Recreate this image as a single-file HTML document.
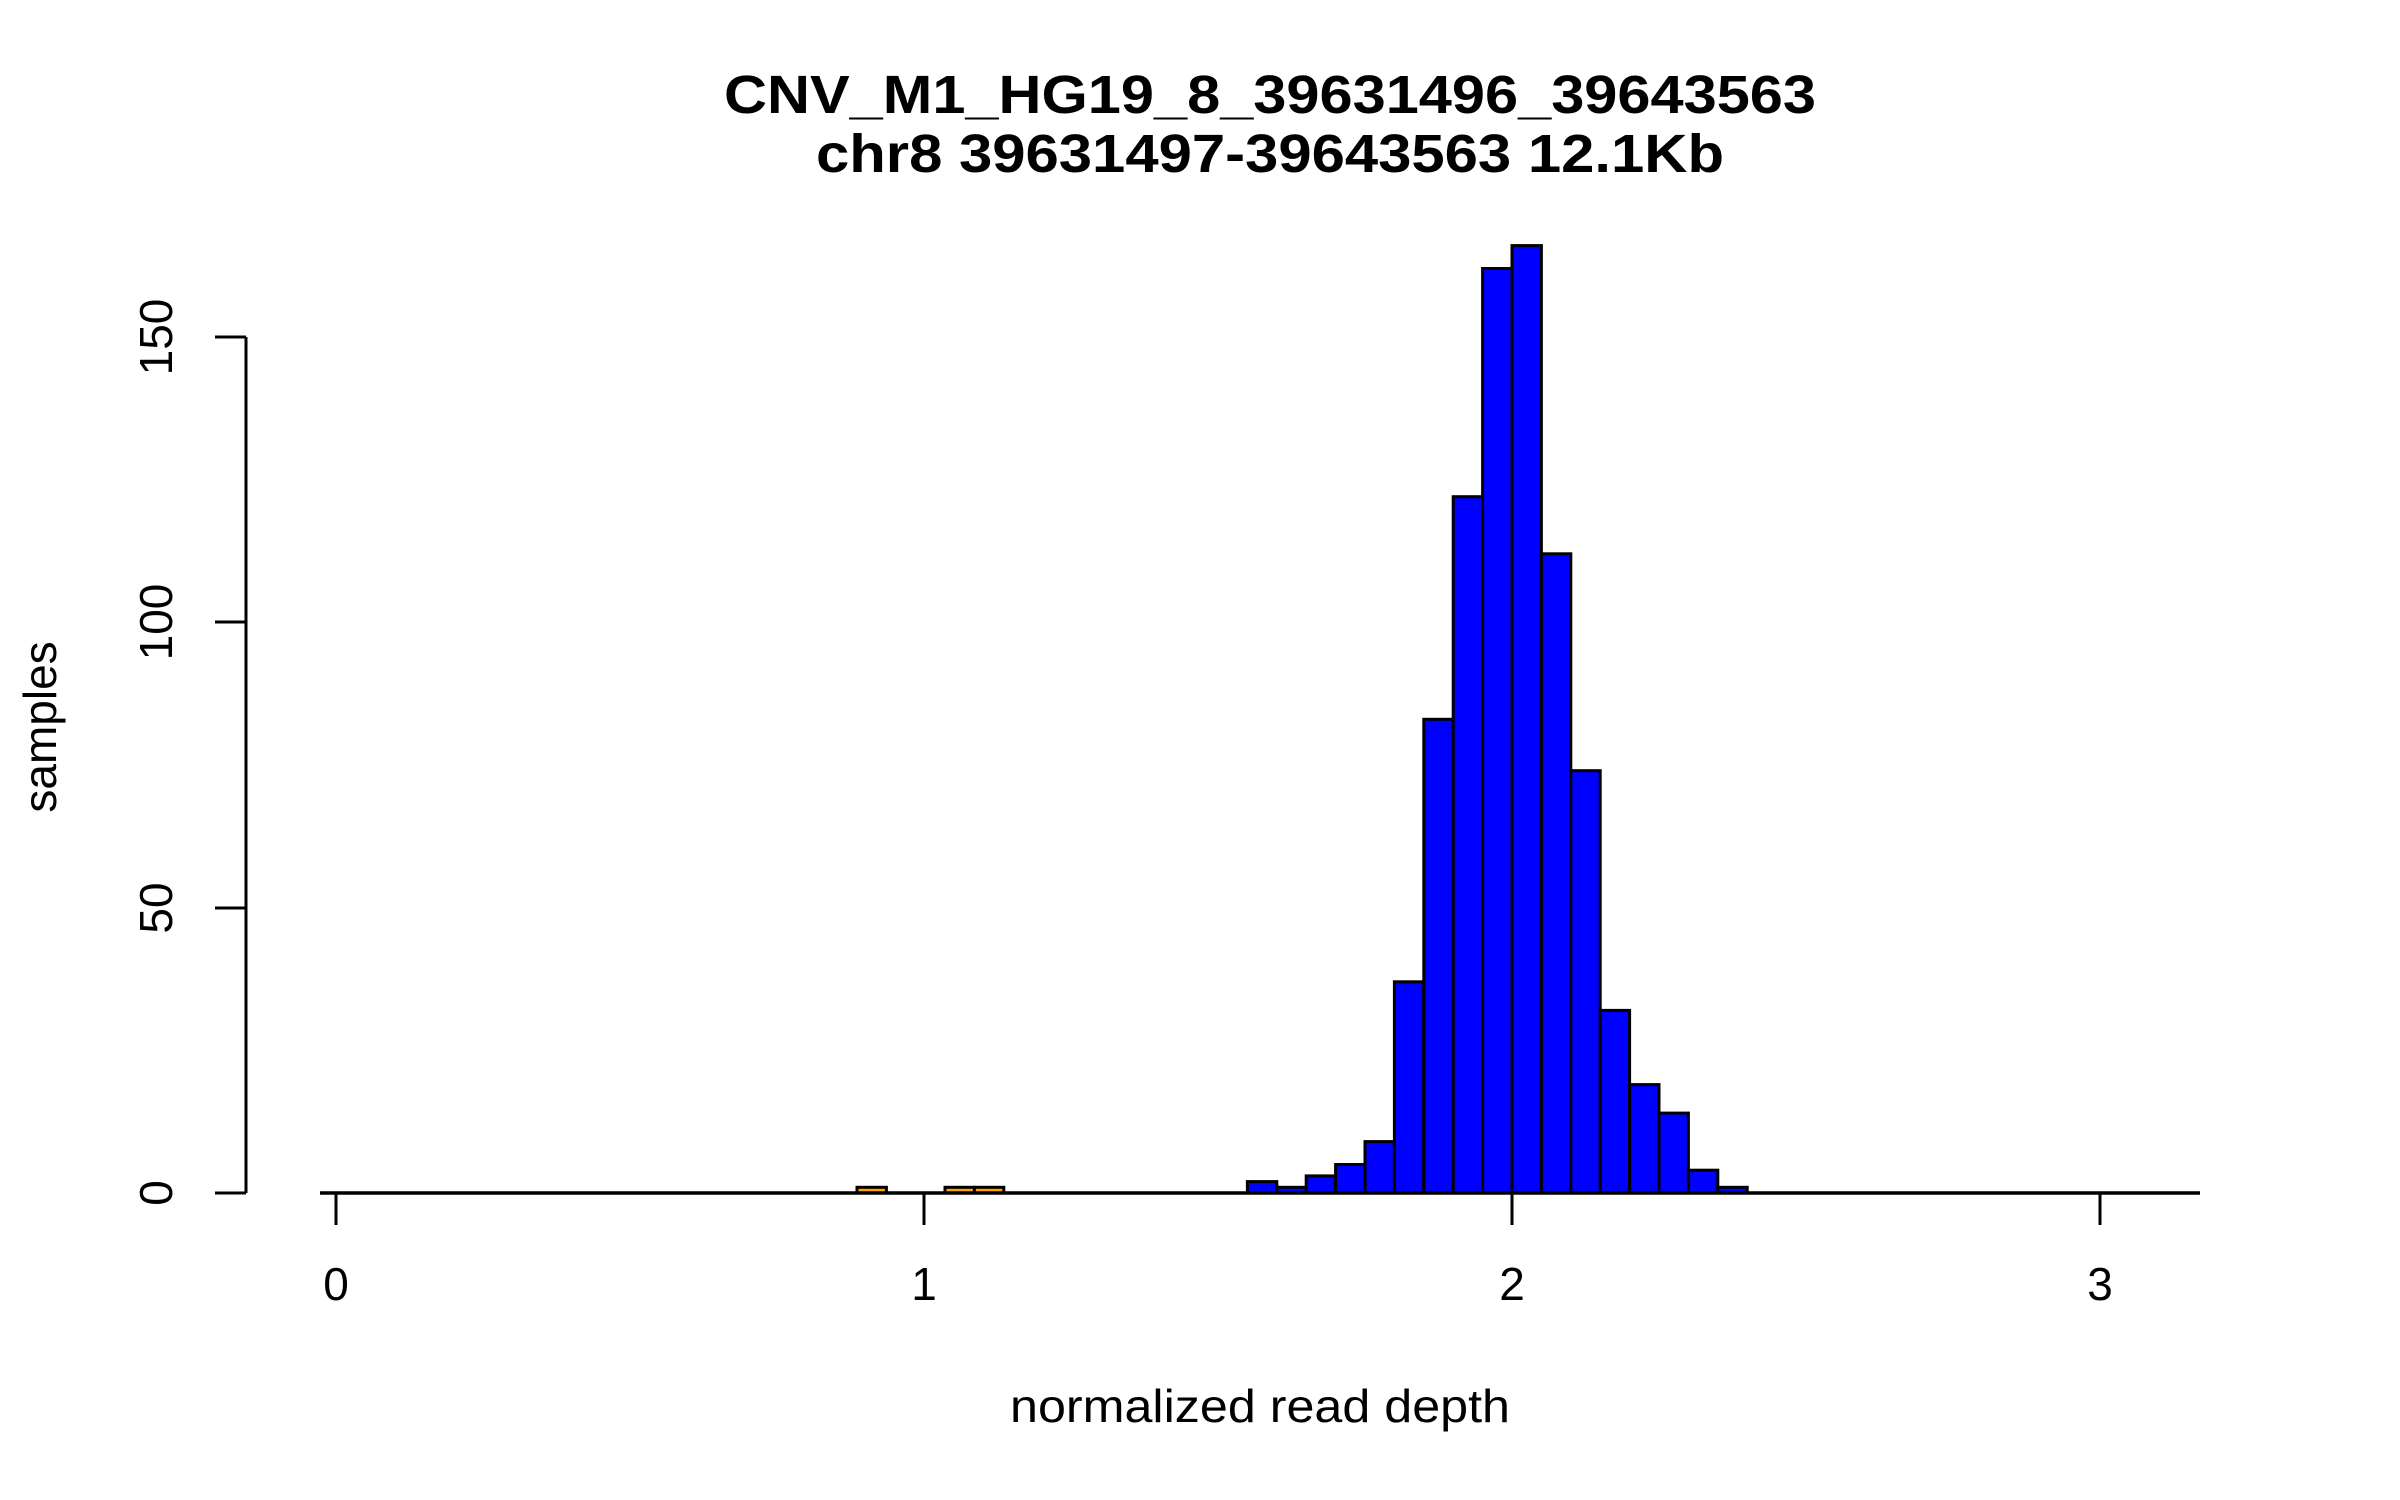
<!DOCTYPE html>
<html><head><meta charset="utf-8"><style>html,body{margin:0;padding:0;background:#fff}svg{display:block}</style></head>
<body>
<svg width="2400" height="1500" viewBox="0 0 2400 1500" xmlns="http://www.w3.org/2000/svg" font-family="Liberation Sans, Arial, sans-serif">
<rect width="2400" height="1500" fill="#fff"/>
<g font-weight="bold" font-size="54" text-anchor="middle" fill="#000">
<text x="1270" y="113" textLength="1092" lengthAdjust="spacingAndGlyphs">CNV_M1_HG19_8_39631496_39643563</text>
<text x="1270" y="172" textLength="908" lengthAdjust="spacingAndGlyphs">chr8 39631497-39643563 12.1Kb</text>
</g>
<g stroke="#000" stroke-width="3" fill="#0000ff">
<rect x="1247.4" y="1181.6" width="29.4" height="11.4"/>
<rect x="1276.8" y="1187.3" width="29.4" height="5.7"/>
<rect x="1306.2" y="1175.9" width="29.4" height="17.1"/>
<rect x="1335.6" y="1164.5" width="29.4" height="28.5"/>
<rect x="1365.0" y="1141.6" width="29.4" height="51.4"/>
<rect x="1394.4" y="981.8" width="29.4" height="211.2"/>
<rect x="1423.8" y="719.3" width="29.4" height="473.7"/>
<rect x="1453.2" y="496.7" width="29.4" height="696.3"/>
<rect x="1482.6" y="268.5" width="29.4" height="924.5"/>
<rect x="1512.0" y="245.6" width="29.4" height="947.4"/>
<rect x="1541.4" y="553.8" width="29.4" height="639.2"/>
<rect x="1570.8" y="770.7" width="29.4" height="422.3"/>
<rect x="1600.2" y="1010.4" width="29.4" height="182.6"/>
<rect x="1629.6" y="1084.6" width="29.4" height="108.4"/>
<rect x="1659.0" y="1113.1" width="29.4" height="79.9"/>
<rect x="1688.4" y="1170.2" width="29.4" height="22.8"/>
<rect x="1717.8" y="1187.3" width="29.4" height="5.7"/>
</g>
<g stroke="#000" stroke-width="3" fill="#ffa500">
<rect x="857" y="1187.3" width="29.4" height="5.7"/>
<rect x="945" y="1187.3" width="29.4" height="5.7"/>
<rect x="974.4" y="1187.3" width="29.4" height="5.7"/>
</g>
<g stroke="#000" stroke-width="3" fill="none">
<line x1="320" y1="1193" x2="2200" y2="1193" stroke-width="3.5"/>
<line x1="336" y1="1193" x2="336" y2="1225"/>
<line x1="924" y1="1193" x2="924" y2="1225"/>
<line x1="1512" y1="1193" x2="1512" y2="1225"/>
<line x1="2100" y1="1193" x2="2100" y2="1225"/>
<line x1="246" y1="337" x2="246" y2="1193"/>
<line x1="215" y1="1193" x2="246" y2="1193"/>
<line x1="215" y1="908" x2="246" y2="908"/>
<line x1="215" y1="622" x2="246" y2="622"/>
<line x1="215" y1="337" x2="246" y2="337"/>
</g>
<g font-size="46" text-anchor="middle" fill="#000">
<text x="336" y="1300">0</text>
<text x="924" y="1300">1</text>
<text x="1512" y="1300">2</text>
<text x="2100" y="1300">3</text>
<text transform="translate(172,1193) rotate(-90)">0</text>
<text transform="translate(172,908) rotate(-90)">50</text>
<text transform="translate(172,622) rotate(-90)">100</text>
<text transform="translate(172,337) rotate(-90)">150</text>
<text x="1260" y="1422" textLength="500" lengthAdjust="spacingAndGlyphs">normalized read depth</text>
<text transform="translate(56,727) rotate(-90)">samples</text>
</g>
</svg>
</body></html>
